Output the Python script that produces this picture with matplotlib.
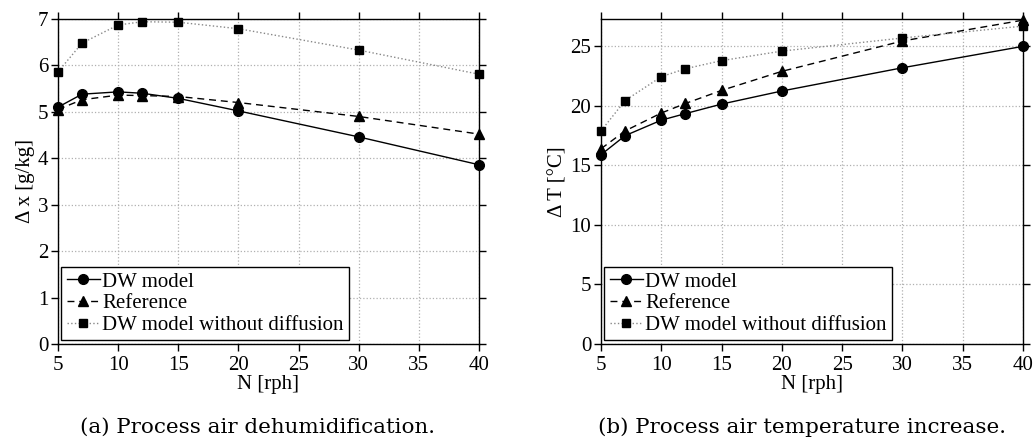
import matplotlib
matplotlib.use("Agg")
import matplotlib.pyplot as plt

plt.rcParams['font.family'] = ['Liberation Serif', 'DejaVu Serif']
plt.rcParams['font.size'] = 15

N = [5, 7, 10, 12, 15, 20, 30, 40]

# (a) dehumidification [g/kg]
dx_model = [5.10, 5.38, 5.43, 5.40, 5.29, 5.02, 4.46, 3.86]
dx_ref = [5.05, 5.26, 5.36, 5.35, 5.33, 5.20, 4.90, 4.52]
dx_nodiff = [5.86, 6.48, 6.87, 6.94, 6.93, 6.79, 6.33, 5.81]

# (b) temperature increase [degC]
dT_model = [15.9, 17.5, 18.8, 19.35, 20.15, 21.25, 23.2, 25.0]
dT_ref = [16.4, 17.9, 19.4, 20.2, 21.3, 22.9, 25.45, 27.2]
dT_nodiff = [17.9, 20.45, 22.45, 23.12, 23.8, 24.6, 25.7, 26.7]

labels = ['DW model', 'Reference', 'DW model without diffusion']
captions = ['(a) Process air dehumidification.', '(b) Process air temperature increase.']

fig = plt.figure(figsize=(10.35, 4.41), dpi=100)
ax1 = fig.add_axes([0.056, 0.22, 0.4068, 0.737])
ax2 = fig.add_axes([0.5807, 0.22, 0.4077, 0.737])


def draw(ax, model, ref, nodiff, ylim, yticks, ylabel):
    ax.plot(N, model, '-', color='black', lw=1.0, marker='o', ms=7, label=labels[0], clip_on=False, zorder=4)
    ax.plot(N, ref, color='black', lw=1.0, dashes=(5, 3.5), marker='^', ms=7.5, label=labels[1],
            clip_on=False, zorder=4)
    ax.plot(N, nodiff, ':', color='#888888', lw=1.0, marker='s', ms=5.5, mfc='black', mec='black',
            label=labels[2], clip_on=False, zorder=4)
    ax.set_xlim(5, 40)
    ax.set_ylim(*ylim)
    ax.set_xticks(range(5, 41, 5))
    ax.set_yticks(yticks)
    ax.grid(True, linestyle=':', color='#b0b0b0', lw=0.9)
    ax.tick_params(direction='out', length=5, width=1, top=True, right=True)
    ax.tick_params(axis='x', pad=4)
    ax.tick_params(axis='y', pad=2)
    ax.set_xlabel('N [rph]', labelpad=0)
    ax.set_ylabel(ylabel, labelpad=2)
    for s in ax.spines.values():
        s.set_linewidth(1.0)
    leg = ax.legend(loc='lower left', bbox_to_anchor=(0.008, 0.012), fancybox=False, framealpha=1,
                    edgecolor='black', handlelength=1.6, handletextpad=0.1, borderpad=0.25,
                    labelspacing=0.1, borderaxespad=0, fontsize=15)
    leg.get_frame().set_linewidth(1.0)


draw(ax1, dx_model, dx_ref, dx_nodiff, (0, 7), range(0, 8), 'Δ x [g/kg]')
draw(ax2, dT_model, dT_ref, dT_nodiff, (0, 27.3), range(0, 26, 5), 'Δ T [°C]')

cap_x = [258 / 1035, 802 / 1035]
for x, cap in zip(cap_x, captions):
    fig.text(x, 1 - 427 / 441, cap, ha='center', va='center', fontsize=15.4, family='DejaVu Serif')

fig.savefig('out.png', dpi=100)
